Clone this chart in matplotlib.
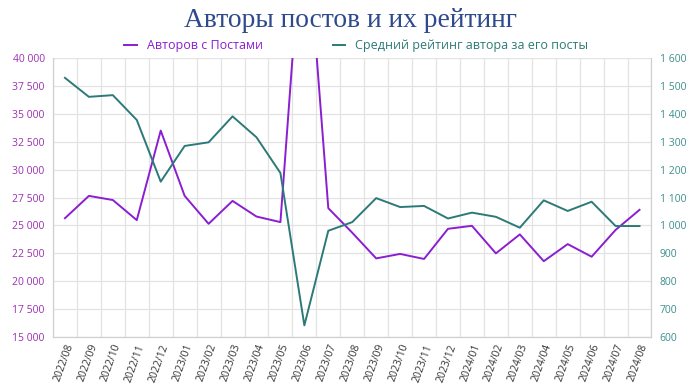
import numpy as np
import matplotlib
matplotlib.use("Agg")
import matplotlib.pyplot as plt
from matplotlib.ticker import FuncFormatter, FixedLocator

# %%
months = ["2022/08", "2022/09", "2022/10", "2022/11", "2022/12",
          "2023/01", "2023/02", "2023/03", "2023/04", "2023/05", "2023/06", "2023/07", "2023/08",
          "2023/09", "2023/10", "2023/11", "2023/12",
          "2024/01", "2024/02", "2024/03", "2024/04", "2024/05", "2024/06", "2024/07", "2024/08"]

authors_with_posts = [25650, 27650, 27280, 25480, 33500,
                      27650, 25150, 27200, 25800, 25300, 54500, 26550, 24350,
                      22050, 22450, 22000, 24700,
                      24970, 22500, 24200, 21800, 23330, 22200, 24600, 26400]

avg_author_rating = [1529, 1461, 1467, 1378, 1157,
                     1285, 1298, 1391, 1316, 1188, 642, 981, 1012,
                     1098, 1066, 1070, 1025,
                     1046, 1031, 992, 1090, 1052, 1085, 998, 998]

label_authors = "Авторов с Постами"
label_rating = "Средний рейтинг автора за его посты"
title = "Авторы постов и их рейтинг"

purple = "#8A1ED0"
teal = "#2C7A78"
grid_c = "#E3E3E3"

# %%
plt.rcParams['font.family'] = ['Open Sans', 'DejaVu Sans']

def space_thousands(v, pos):
    return f"{int(round(v)):,}".replace(",", " ")

fig = plt.figure(figsize=(7.0, 3.87), dpi=100)
ax = fig.add_axes([0.0757, 0.129, 0.855, 0.721])
ax2 = ax.twinx()

x = np.arange(len(months))
l1, = ax.plot(x, authors_with_posts, color=purple, linewidth=1.4, label=label_authors)
l2, = ax2.plot(x, avg_author_rating, color=teal, linewidth=1.4, label=label_rating)

ax.set_xlim(-0.5, len(months) - 0.5)
ax.set_ylim(15000, 40000)
ax2.set_ylim(600, 1600)
ax.set_yticks(np.arange(15000, 40001, 2500))
ax2.set_yticks(np.arange(600, 1601, 100))
ax.yaxis.set_major_formatter(FuncFormatter(space_thousands))
ax2.yaxis.set_major_formatter(FuncFormatter(space_thousands))

ax.set_xticks(x)
ax.set_xticklabels(months, rotation=70, ha="right", rotation_mode="anchor", fontsize=7.5, color="#333333")
ax.xaxis.set_minor_locator(FixedLocator(np.arange(-0.5, len(months), 1.0)))
ax.tick_params(axis="x", which="major", length=0, pad=4)
ax.tick_params(axis="x", which="minor", length=0)
ax.tick_params(axis="y", length=0, labelsize=7.5, labelcolor="#9B30B0", pad=6)
ax2.tick_params(axis="y", length=0, labelsize=7.5, labelcolor="#3E8E8E", pad=6)

ax.grid(True, axis="y", color=grid_c, linewidth=0.9)
ax.grid(True, axis="x", which="minor", color=grid_c, linewidth=0.9)
ax.set_axisbelow(True)

for a in (ax, ax2):
    a.spines["top"].set_visible(False)
    a.spines["left"].set_color("#D0D0D0")
    a.spines["right"].set_color("#D0D0D0")
    a.spines["bottom"].set_color("#D0D0D0")

fig.text(0.5, 0.948, title, ha="center", va="center", fontsize=19.8,
         family="Liberation Serif", color="#2F4A8C")
fig.legend(handles=[l1, l2], loc="center", bbox_to_anchor=(0.509, 0.882), ncol=2,
           frameon=False, fontsize=9, handlelength=1.0, columnspacing=5.6,
           labelcolor=[purple, teal])

fig.savefig("out.png", dpi=100)
